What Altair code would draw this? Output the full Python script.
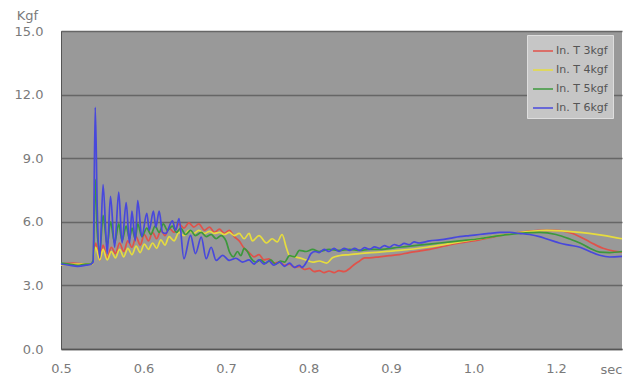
import altair as alt
import pandas as pd

series_names = ["In. T 3kgf", "In. T 4kgf", "In. T 5kgf", "In. T 6kgf"]
series_colors = ["#e0524a", "#e6dc3e", "#3c983c", "#4848dc"]

# In. T 3kgf (red)
t3_time = [0.500, 0.515, 0.530, 0.538, 0.542, 0.547, 0.551, 0.556, 0.561, 0.566, 0.571, 0.576,
           0.581, 0.586, 0.591, 0.596, 0.601, 0.606, 0.611, 0.616, 0.621, 0.626, 0.631, 0.637,
           0.643, 0.649, 0.655, 0.661, 0.667, 0.674, 0.680, 0.686, 0.692, 0.698, 0.704, 0.710,
           0.716, 0.722, 0.728, 0.734, 0.740, 0.746, 0.752, 0.758, 0.765, 0.771, 0.777, 0.783,
           0.789, 0.795, 0.801, 0.807, 0.813, 0.819, 0.825, 0.831, 0.837, 0.843, 0.850, 0.856,
           0.862, 0.868, 0.874, 0.886, 0.898, 0.910, 0.922, 0.934, 0.947, 0.959, 0.983, 1.007,
           1.032, 1.056, 1.080, 1.100, 1.120, 1.141, 1.157, 1.170, 1.180]
t3_kgf = [4.0, 4.05, 4.0, 4.0, 5.0, 4.2, 4.9, 4.3, 4.8, 4.5, 5.0, 4.6,
          5.1, 4.8, 5.3, 4.9, 5.4, 5.1, 5.5, 5.2, 5.6, 5.35, 5.7, 5.5,
          5.9, 5.7, 5.95, 5.75, 5.9, 5.6, 5.75, 5.5, 5.65, 5.45, 5.6, 5.3,
          5.1, 4.75, 4.55, 4.35, 4.45, 4.2, 4.25, 4.05, 4.1, 3.95, 4.0, 3.85,
          3.9, 3.75, 3.8, 3.65, 3.7, 3.6, 3.68, 3.6, 3.7, 3.65, 3.8, 4.0,
          4.15, 4.3, 4.3, 4.35, 4.4, 4.45, 4.55, 4.62, 4.7, 4.8, 5.0, 5.15,
          5.35, 5.5, 5.6, 5.6, 5.45, 5.05, 4.75, 4.62, 4.57]

# In. T 4kgf (yellow)
t4_time = [0.500, 0.520, 0.538, 0.542, 0.547, 0.551, 0.556, 0.561, 0.566, 0.571, 0.576, 0.581,
           0.586, 0.591, 0.596, 0.601, 0.606, 0.611, 0.616, 0.621, 0.626, 0.631, 0.637, 0.643,
           0.649, 0.655, 0.661, 0.667, 0.674, 0.680, 0.686, 0.692, 0.698, 0.704, 0.710, 0.716,
           0.722, 0.728, 0.732, 0.740, 0.749, 0.756, 0.762, 0.768, 0.773, 0.777, 0.783, 0.789,
           0.797, 0.805, 0.813, 0.822, 0.829, 0.837, 0.850, 0.862, 0.886, 0.910, 0.943, 0.983,
           1.019, 1.047, 1.089, 1.129, 1.153, 1.169, 1.180]
t4_kgf = [3.95, 4.0, 4.0, 4.8, 4.2, 4.7, 4.2, 4.6, 4.3, 4.7, 4.35, 4.75,
          4.45, 4.85, 4.55, 4.95, 4.7, 5.0, 4.75, 5.15, 4.9, 5.3, 5.1, 5.5,
          5.35, 5.6, 5.45, 5.6, 5.45, 5.55, 5.45, 5.5, 5.4, 5.5, 5.35, 5.45,
          5.2, 5.45, 5.1, 5.35, 5.0, 5.2, 5.05, 5.4, 4.8, 4.4, 4.35, 4.3,
          4.2, 4.1, 4.15, 4.05, 4.3, 4.4, 4.45, 4.5, 4.57, 4.65, 4.8, 5.05,
          5.28, 5.45, 5.6, 5.5, 5.38, 5.28, 5.2]

# In. T 5kgf (green)
t5_time = [0.500, 0.510, 0.520, 0.530, 0.536, 0.539, 0.5415, 0.544, 0.547, 0.551, 0.556, 0.560,
           0.565, 0.570, 0.574, 0.579, 0.583, 0.586, 0.590, 0.593, 0.598, 0.604, 0.609, 0.614,
           0.619, 0.624, 0.629, 0.635, 0.640, 0.645, 0.651, 0.657, 0.663, 0.670, 0.676, 0.682,
           0.688, 0.694, 0.700, 0.704, 0.709, 0.714, 0.718, 0.722, 0.726, 0.730, 0.736, 0.742,
           0.748, 0.754, 0.760, 0.766, 0.771, 0.777, 0.783, 0.789, 0.797, 0.805, 0.813, 0.825,
           0.837, 0.850, 0.862, 0.874, 0.886, 0.910, 0.934, 0.959, 0.983, 1.007, 1.032, 1.056,
           1.080, 1.100, 1.116, 1.129, 1.141, 1.153, 1.165, 1.180]
t5_kgf = [4.05, 4.0, 3.95, 4.0, 4.0, 4.2, 8.0, 5.5, 4.6, 6.3, 4.9, 6.0,
          5.0, 5.9, 5.1, 5.8, 5.2, 5.7, 5.2, 5.9, 5.3, 5.7, 5.4, 5.8,
          5.5, 5.9, 5.6, 5.8, 5.5, 5.7, 5.4, 5.6, 5.35, 5.5, 5.3, 5.4,
          5.2, 5.35, 5.1, 4.6, 4.35, 4.6, 4.4, 4.75, 4.6, 4.3, 4.1, 4.2,
          4.05, 4.2, 4.0, 4.15, 4.1, 4.4, 4.35, 4.65, 4.6, 4.7, 4.6, 4.7,
          4.65, 4.7, 4.65, 4.7, 4.7, 4.8, 4.9, 5.0, 5.1, 5.2, 5.35, 5.45,
          5.5, 5.4, 5.2, 5.0, 4.75, 4.57, 4.55, 4.6]

# In. T 6kgf (blue)
t6_time = [0.500, 0.510, 0.520, 0.530, 0.536, 0.539, 0.5415, 0.544, 0.547, 0.551, 0.556, 0.560,
           0.565, 0.570, 0.574, 0.579, 0.583, 0.586, 0.590, 0.593, 0.598, 0.604, 0.607, 0.612,
           0.615, 0.619, 0.623, 0.627, 0.635, 0.639, 0.643, 0.649, 0.657, 0.663, 0.670, 0.676,
           0.682, 0.688, 0.696, 0.704, 0.712, 0.720, 0.728, 0.734, 0.740, 0.746, 0.752, 0.758,
           0.765, 0.771, 0.777, 0.783, 0.789, 0.792, 0.799, 0.803, 0.808, 0.813, 0.819, 0.825,
           0.831, 0.837, 0.843, 0.850, 0.856, 0.862, 0.868, 0.874, 0.880, 0.886, 0.892, 0.898,
           0.904, 0.910, 0.916, 0.922, 0.928, 0.934, 0.947, 0.959, 0.971, 0.983, 0.995, 1.007,
           1.019, 1.032, 1.044, 1.056, 1.068, 1.080, 1.088, 1.096, 1.104, 1.116, 1.129, 1.141,
           1.153, 1.165, 1.180]
t6_kgf = [4.0, 3.95, 3.9, 3.95, 4.0, 4.1, 11.4, 6.5, 4.3, 7.75, 4.5, 7.2,
          4.8, 7.4, 5.0, 6.9, 5.0, 6.5, 5.1, 7.0, 5.3, 6.4, 5.6, 6.5,
          5.75, 6.5, 5.5, 5.45, 6.05, 5.6, 6.15, 4.26, 5.36, 4.5, 5.28, 4.26,
          4.8, 4.18, 4.42, 4.18, 4.28, 4.1, 4.2, 4.0, 4.2, 4.0, 4.15, 3.95,
          4.1, 3.9, 4.05, 3.85, 3.95, 3.85, 4.2, 4.5, 4.6, 4.55, 4.7, 4.6,
          4.75, 4.6, 4.75, 4.65, 4.75, 4.65, 4.78, 4.7, 4.82, 4.75, 4.88, 4.8,
          4.93, 4.86, 4.98, 4.92, 5.05, 5.0, 5.1, 5.15, 5.22, 5.3, 5.35, 5.4,
          5.45, 5.5, 5.5, 5.45, 5.4, 5.3, 5.2, 5.1, 5.0, 4.9, 4.8, 4.6,
          4.42, 4.34, 4.37]

x_tick_values = [0.5, 0.6, 0.7, 0.8, 0.9, 1.0, 1.1]
y_tick_values = [0, 3, 6, 9, 12, 15]

rows = []
for name, ts, vs in zip(series_names,
                        [t3_time, t4_time, t5_time, t6_time],
                        [t3_kgf, t4_kgf, t5_kgf, t6_kgf]):
    for t, v in zip(ts, vs):
        rows.append({"series": name, "t": t, "kgf": v})
df = pd.DataFrame(rows)

FONT = "DejaVu Sans"

chart = alt.Chart(df).mark_line(strokeWidth=1.7, interpolate="monotone").encode(
    x=alt.X("t:Q",
            scale=alt.Scale(domain=[0.5, 1.18], nice=False, zero=False),
            axis=alt.Axis(values=x_tick_values,
                          labelExpr="datum.value > 1.05 ? '1.2' : format(datum.value, '.1f')",
                          grid=False, ticks=False, labelFlush=False, labelOverlap=False,
                          domainColor="#555555", domainWidth=1.5,
                          labelFont=FONT, labelFontSize=13, labelColor="#7a7a7a",
                          labelPadding=13,
                          title="sec", titleAngle=0, titleX=550, titleY=20,
                          titleAlign="center", titleBaseline="middle",
                          titleFont=FONT, titleFontSize=13, titleFontWeight="normal",
                          titleColor="#7a7a7a")),
    y=alt.Y("kgf:Q",
            scale=alt.Scale(domain=[0, 15], nice=False),
            axis=alt.Axis(values=y_tick_values, format=".1f",
                          grid=True, gridColor="#666666", gridWidth=1.5,
                          ticks=False, domainColor="#555555", domainWidth=1,
                          labelFlush=False,
                          labelFont=FONT, labelFontSize=13, labelColor="#7a7a7a",
                          labelPadding=18,
                          title="Kgf", titleAngle=0, titleX=-34, titleY=-16,
                          titleAlign="center", titleBaseline="middle",
                          titleFont=FONT, titleFontSize=13, titleFontWeight="normal",
                          titleColor="#7a7a7a")),
    color=alt.Color("series:N",
                    scale=alt.Scale(domain=series_names, range=series_colors),
                    legend=alt.Legend(title=None, orient="none", legendX=466, legendY=4,
                                      fillColor="#c6c6c6", strokeColor="#dedede",
                                      padding=5, rowPadding=3,
                                      symbolType="stroke", symbolSize=400,
                                      symbolStrokeWidth=1.5, labelOffset=2,
                                      labelFont=FONT, labelFontSize=11,
                                      labelColor="#555555")),
).properties(
    width=561, height=318,
    autosize=alt.AutoSizeParams(type="none"),
    padding={"left": 53, "top": 23, "right": 3, "bottom": 26},
    background="white",
).configure_view(
    fill="#999999", stroke=None
)

chart.save("out.html", embed_options={"renderer": "svg", "actions": False})
